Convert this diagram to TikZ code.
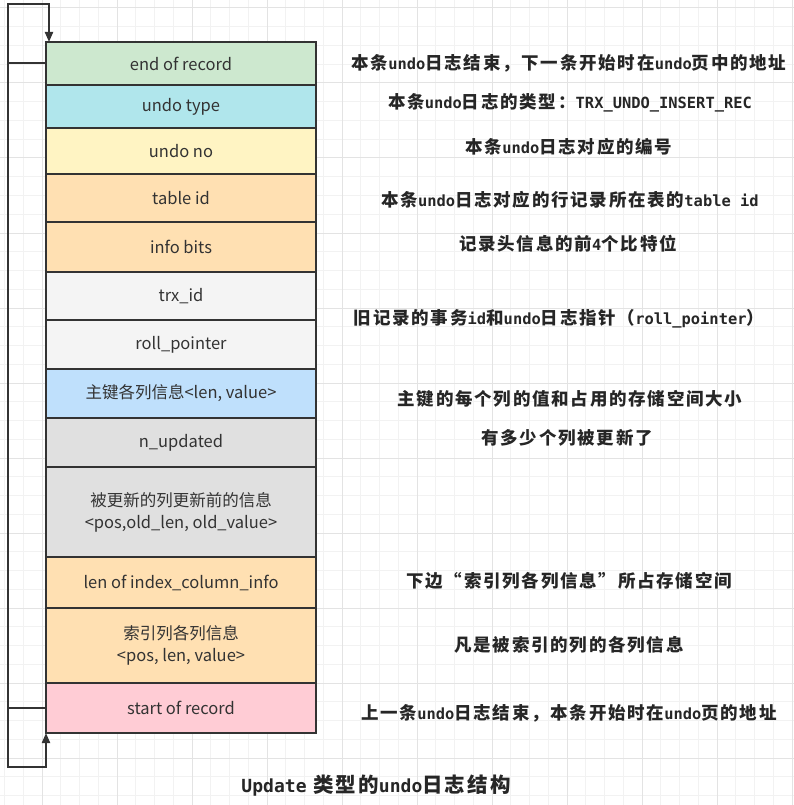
\documentclass[tikz,border=0pt]{standalone}
\usepackage{fontspec}
\setmainfont{Noto Sans CJK SC}
\setmonofont[Scale=0.88]{DejaVu Sans Mono}
\newfontfamily\notefont[LetterSpace=10]{Noto Sans CJK SC}
\newcommand{\en}[1]{{\ttfamily #1}}
\usetikzlibrary{positioning,arrows.meta}

\definecolor{edge}{HTML}{333333}
\definecolor{cgreen}{HTML}{CDE8CF}
\definecolor{ccyan}{HTML}{B0E6EC}
\definecolor{cyellow}{HTML}{FFF4C3}
\definecolor{corange}{HTML}{FFE0B2}
\definecolor{cwhite}{HTML}{F4F4F4}
\definecolor{cblue}{HTML}{BFE0FC}
\definecolor{cgray}{HTML}{E0E0E0}
\definecolor{cpink}{HTML}{FFCCD5}

\tikzset{
    field/.style={draw=edge, line width=2pt, minimum width=270pt, inner sep=0pt,
        outer sep=0pt, text=edge, align=center, font=\fontsize{16.5}{22}\selectfont},
    note/.style={text=black!85, font=\notefont\bfseries\fontsize{17.5}{20}\selectfont},
    loop/.style={draw=edge, line width=2pt, -{Triangle[length=10pt,width=8pt]}},
    minorgrid/.style={draw=black!5, line width=1pt},
    majorgrid/.style={draw=black!11, line width=1pt}
}

\begin{document}
\begin{tikzpicture}[x=1pt, y=-1pt]
    \useasboundingbox (0,0) rectangle (794,805);
    % Background grid
    \foreach \x in {4.5,23.25,...,794} \draw[minorgrid] (\x,0) -- ++(0,805);
    \foreach \y in {8,26.75,...,805} \draw[minorgrid] (0,\y) -- ++(794,0);
    \foreach \x in {42,117,...,794} \draw[majorgrid] (\x,0) -- ++(0,805);
    \foreach \y in {8,83,...,805} \draw[majorgrid] (0,\y) -- ++(794,0);

    % Record fields
    \node[field, fill=cgreen, minimum height=43pt, anchor=north west] (endrec) at (46,42) {end of record};
    \node[field, fill=ccyan, minimum height=43pt, below=0pt of endrec] (undotype) {undo type};
    \node[field, fill=cyellow, minimum height=46pt, below=0pt of undotype] (undono) {undo no};
    \node[field, fill=corange, minimum height=48pt, below=0pt of undono] (tableid) {table id};
    \node[field, fill=corange, minimum height=50pt, below=0pt of tableid] (infobits) {info bits};
    \node[field, fill=cwhite, minimum height=48pt, below=0pt of infobits] (trxid) {trx\_id};
    \node[field, fill=cwhite, minimum height=49pt, below=0pt of trxid] (rollptr) {roll\_pointer};
    \node[field, fill=cblue, minimum height=49pt, below=0pt of rollptr] (pkinfo) {主键各列信息<len, value>};
    \node[field, fill=cgray, minimum height=49pt, below=0pt of pkinfo] (nupdated) {n\_updated};
    \node[field, fill=cgray, minimum height=90pt, below=0pt of nupdated] (oldinfo) {被更新的列更新前的信息\\<pos,old\_len, old\_value>};
    \node[field, fill=corange, minimum height=51pt, below=0pt of oldinfo] (idxlen) {len of index\_column\_info};
    \node[field, fill=corange, minimum height=75pt, below=0pt of idxlen] (idxinfo) {索引列各列信息\\<pos, len, value>};
    \node[field, fill=cpink, minimum height=50pt, below=0pt of idxinfo] (startrec) {start of record};

    % Loop arrows
    \coordinate (looptop) at (8,4);
    \coordinate (loopbot) at (8,767);
    \draw[loop] (startrec.west) -| (looptop) -| ([xshift=3pt]endrec.north west);
    \draw[loop] (endrec.west) -| (loopbot) -| (startrec.south west);

    % Notes
    \node[note] (endnote) at (569,63) {本条\en{undo}日志结束，下一条开始时在\en{undo}页中的地址};
    \node[note] (typenote) at (570,103) {本条\en{undo}日志的类型：\en{TRX\_UNDO\_INSERT\_REC}};
    \node[note] (nonote) at (569,147) {本条\en{undo}日志对应的编号};
    \node[note] (tablenote) at (570,200) {本条\en{undo}日志对应的行记录所在表的\en{table id}};
    \node[note] (infonote) at (568,244) {记录头信息的前\en{4}个比特位};
    \node[note] (trxnote) at (559,319) {旧记录的事务\en{id}和\en{undo}日志指针（\en{roll\_pointer}）};
    \node[note] (pknote) at (570,399) {主键的每个列的值和占用的存储空间大小};
    \node[note] (nupnote) at (567,438) {有多少个列被更新了};
    \node[note] (lennote) at (569,581) {下边“索引列各列信息”所占存储空间};
    \node[note] (idxnote) at (569,645) {凡是被索引的列的各列信息};
    \node[note] (startnote) at (569,713) {上一条\en{undo}日志结束，本条开始时在\en{undo}页的地址};
    \node[note, font=\notefont\bfseries\fontsize{20.5}{24}\selectfont] (title) at (376,786) {\en{Update}\ 类型的\en{undo}日志结构};
\end{tikzpicture}
\end{document}
